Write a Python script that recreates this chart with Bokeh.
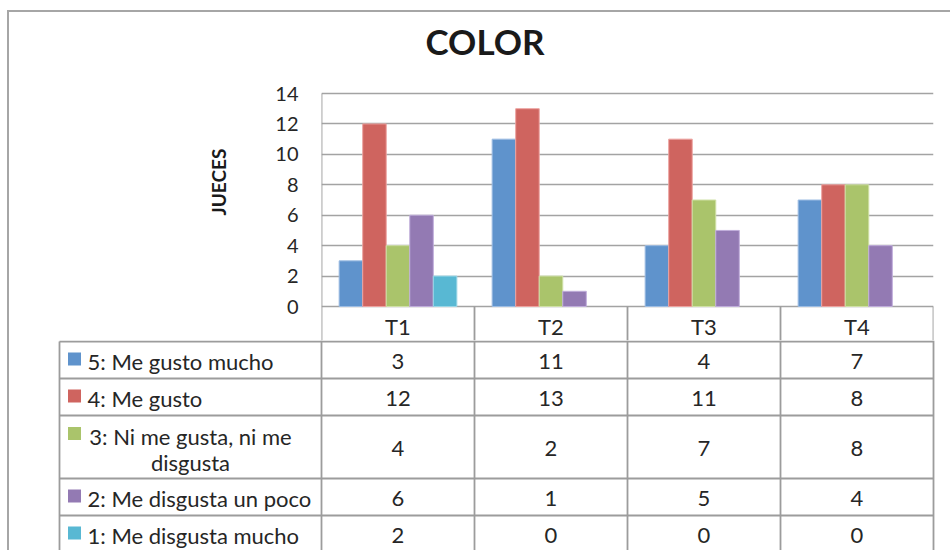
from bokeh.plotting import figure
from bokeh.models import FactorRange, Range1d, FixedTicker, Title, ColumnDataSource, Label
from bokeh.layouts import column
from bokeh.transform import dodge
from bokeh.core.properties import value
from bokeh.embed import file_html
from bokeh.resources import INLINE

# ---------------- data ----------------
categories = ["T1", "T2", "T3", "T4"]
series_labels = ["5: Me gusto mucho", "4: Me gusto", "3: Ni me gusta, ni me\ndisgusta",
                 "2: Me disgusta un poco", "1: Me disgusta mucho"]
me_gusto_mucho = [3, 11, 4, 7]
me_gusto = [12, 13, 11, 8]
ni_gusta_ni_disgusta = [4, 2, 7, 8]
me_disgusta_un_poco = [6, 1, 5, 4]
me_disgusta_mucho = [2, 0, 0, 0]
y_ticks = [0, 2, 4, 6, 8, 10, 12, 14]
chart_title = "COLOR"
y_title = "JUECES"

series_values = [me_gusto_mucho, me_gusto, ni_gusta_ni_disgusta, me_disgusta_un_poco, me_disgusta_mucho]
colors = ["#5f93cc", "#cf645f", "#aac46b", "#937ab3", "#58b8d3"]
edge_colors = ["#9dbde3", "#eda3a0", "#cfe0a6", "#c0addb", "#9ad6e6"]

FONT = value("Lato")
TXT = "#262626"
GRID = "#a3a3a3"
TABLE_LINE = "#9c9c9c"

# ---------------- layout constants (page px) ----------------
PAGE_X0 = 9           # canvas left on page (after border)
PAGE_Y0 = 12          # canvas top on page (after border)
W = 941
PLOT_L, PLOT_R = 321, 933
Y14, Y0 = 93, 306
PX_PER_UNIT = (Y0 - Y14) / 14.0
A_BOT = 340           # chart canvas ends inside the header row of the table
HDR_BOT = 341
CELL = (PLOT_R - PLOT_L) / len(categories)

def ay(py):
    """page y -> chart value units"""
    return (Y0 - py) / PX_PER_UNIT

# ---------------- chart figure ----------------
pA = figure(width=W, height=A_BOT - PAGE_Y0,
            x_range=FactorRange(*categories),
            y_range=Range1d(ay(A_BOT), ay(PAGE_Y0)),
            output_backend="svg", toolbar_location=None, x_axis_location=None,
            min_border_left=PLOT_L - PAGE_X0, min_border_right=PAGE_X0 + W - PLOT_R,
            min_border_top=0, min_border_bottom=0)
pA.frame_align = False
pA.outline_line_color = None
pA.xgrid.visible = False
pA.ygrid.ticker = FixedTicker(ticks=y_ticks)
pA.ygrid.grid_line_color = GRID
pA.ygrid.grid_line_width = 1.6
pA.yaxis.ticker = FixedTicker(ticks=y_ticks)
pA.yaxis.axis_line_color = None
pA.yaxis.major_tick_out = 0
pA.yaxis.major_tick_in = 0
pA.yaxis.minor_tick_out = 0
pA.yaxis.minor_tick_in = 0
pA.yaxis.major_label_standoff = 23
pA.yaxis.major_label_text_font = "Lato"
pA.yaxis.major_label_text_font_size = "20px"
pA.yaxis.major_label_text_color = TXT

# plot-area left edge + header-row cell borders
ncat = len(categories)
pA.segment(x0=list(range(ncat + 1)), x1=list(range(ncat + 1)),
           y0=[ay(A_BOT)] * (ncat + 1), y1=[y_ticks[-1]] + [y_ticks[0]] * ncat,
           line_color=TABLE_LINE, line_width=1.8)

# category header row
pA.text(x=categories, y=[ay(326)] * ncat, text=categories, text_align="center",
        text_baseline="middle", text_font=FONT, text_font_size="22px", text_color=TXT)

# chart title
pA.add_layout(Label(x=(425 - PLOT_L) / CELL, y=ay(40), text=chart_title,
                    text_align="left", text_baseline="alphabetic",
                    text_font="Lato", text_font_size="35px", text_font_style="bold",
                    text_color="#1a1a1a"))

pA.add_layout(Title(text=y_title, align="left", offset=92 + (A_BOT - 307), standoff=85,
                    text_font="Lato", text_font_size="19px", text_font_style="bold",
                    text_color="#1a1a1a"), "left")

n = len(series_values)
bar_w = 1.0 / (n + 1.5)
cols = dict(cat=categories)
for i, v in enumerate(series_values):
    cols[f"s{i}"] = v
    cols[f"a{i}"] = [1.0 if x > 0 else 0.0 for x in v]
src = ColumnDataSource(cols)
for i, (vals, c, ec) in enumerate(zip(series_values, colors, edge_colors)):
    off = (i - (n - 1) / 2) * bar_w
    pA.vbar(x=dodge("cat", off, range=pA.x_range), top=f"s{i}", bottom=0, width=bar_w,
            source=src, fill_color=c, line_color=ec, line_width=1, line_alpha=f"a{i}")

# ---------------- table figure ----------------
B_TOP, B_BOT = A_BOT, 550
def bx(px):
    return (px - PLOT_L) / CELL
pB = figure(width=W, height=B_BOT - B_TOP,
            x_range=Range1d(bx(PAGE_X0), bx(PAGE_X0 + W)),
            y_range=Range1d(B_BOT - Y0, B_TOP - Y0),
            output_backend="svg", toolbar_location=None,
            x_axis_location=None, y_axis_location=None, min_border=0)
pB.frame_align = False
pB.outline_line_color = None
pB.xgrid.visible = False
pB.ygrid.visible = False

row_edges = [0, HDR_BOT - Y0, 72, 109, 172, 209, 246]
LAB_L = bx(59)
x0s, y0s, x1s, y1s = [], [], [], []
for e in row_edges[1:]:
    x0s.append(LAB_L); x1s.append(ncat); y0s.append(e); y1s.append(e)
x0s.append(LAB_L); x1s.append(LAB_L); y0s.append(row_edges[1]); y1s.append(row_edges[-1])
for j in range(ncat + 1):
    x0s.append(j); x1s.append(j); y0s.append(B_TOP - Y0); y1s.append(row_edges[-1])
pB.segment(x0=x0s, y0=y0s, x1=x1s, y1=y1s, line_color=TABLE_LINE, line_width=1.8)

# values
vx, vy, vt = [], [], []
for r, vals in enumerate(series_values):
    yc = (row_edges[r + 1] + row_edges[r + 2]) / 2 + 1
    for j, v in enumerate(vals):
        vx.append(j + 0.5); vy.append(yc); vt.append(str(v))
pB.text(x=vx, y=vy, text=vt, text_align="center", text_baseline="middle",
        text_font=FONT, text_font_size="22px", text_color=TXT)

# series labels + keys
lx, ly, lt, la = [], [], [], []
kx, ky = [], []
for r, lab in enumerate(series_labels):
    lines = lab.split("\n")
    yc = (row_edges[r + 1] + row_edges[r + 2]) / 2 + 1
    if len(lines) == 1:
        lx.append(bx(87)); ly.append(yc); lt.append(lab); la.append("left")
        kx.append(bx(74)); ky.append(yc - 2)
    else:
        top = yc - 12
        for m, ln in enumerate(lines):
            lx.append(bx(190)); ly.append(top + 26 * m); lt.append(ln); la.append("center")
        kx.append(bx(74)); ky.append(top - 2.5)
lsrc = ColumnDataSource(dict(x=lx, y=ly, text=lt, align=la))
pB.text(x="x", y="y", text="text", text_align="align", source=lsrc, text_baseline="middle",
        text_font=FONT, text_font_size="22px", text_color=TXT)
pB.scatter(x=kx, y=ky, marker="square", size=13, fill_color=colors, line_color=None)

layout = column(pA, pB, spacing=0,
                styles={"border-top": "2px solid #a6a6a6", "border-left": "2px solid #a6a6a6",
                        "margin-left": "7px", "margin-top": "10px"})

open("out.html", "w").write(file_html(layout, INLINE))
